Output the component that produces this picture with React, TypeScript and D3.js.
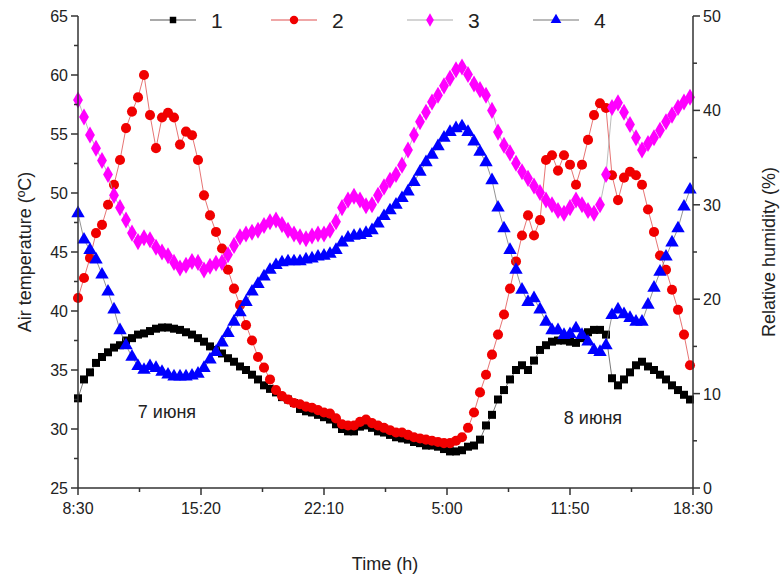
import * as d3 from 'd3'

// time labels on the x axis, 410 min apart
const timeLabels = ['8:30', '15:20', '22:10', '5:00', '11:50', '18:30']
const tickStep = 410
const sampleStep = 20 // minutes between points

// series 1, 2: air temperature (ºC), left axis
const series1 = [
  32.6, 34.2, 34.8, 35.6, 36.1, 36.5, 36.9, 37.1, 37.5, 37.7, 38.0, 38.1, 38.3, 38.5, 38.6, 38.6, 38.5, 38.4, 38.2, 38.0,
  37.7, 37.4, 37.0, 36.7, 36.4, 36.0, 35.7, 35.3, 35.0, 34.6, 34.2, 33.7, 33.4, 33.1, 32.7, 32.5, 32.2, 31.7, 31.5, 31.4,
  31.2, 31.0, 30.8, 30.4, 30.0, 29.8, 29.8, 30.2, 30.3, 30.1, 29.8, 29.7, 29.5, 29.3, 29.2, 29.1, 28.9, 28.8, 28.6, 28.6,
  28.5, 28.3, 28.1, 28.1, 28.2, 28.5, 28.6, 29.1, 30.3, 31.2, 32.5, 33.3, 34.2, 35.0, 35.4, 35.0, 35.8, 36.7, 37.1, 37.4,
  37.5, 37.5, 37.4, 37.3, 37.7, 38.2, 38.4, 38.4, 38.0, 34.3, 33.7, 34.2, 34.8, 35.4, 35.7, 35.3, 35.0, 34.6, 34.2, 33.7,
  33.3, 32.9, 32.5
]
const series2 = [
  41.1, 42.8, 44.5, 46.6, 47.3, 49.0, 50.7, 52.8, 55.5, 56.9, 58.1, 60.0, 56.6, 53.8, 56.4, 56.8, 56.4, 54.1, 55.2, 54.9,
  52.8, 49.8, 48.1, 46.7, 45.3, 43.5, 41.9, 40.5, 38.8, 37.5, 36.1, 35.2, 34.2, 33.3, 32.8, 32.5, 32.2, 32.1, 31.9, 31.8,
  31.6, 31.4, 31.3, 30.9, 30.4, 30.3, 30.3, 30.6, 30.8, 30.5, 30.3, 30.1, 29.9, 29.7, 29.7, 29.5, 29.3, 29.2, 29.1, 29.0,
  28.9, 28.8, 28.8, 29.0, 29.3, 30.1, 31.4, 33.1, 34.6, 36.3, 38.0, 39.7, 41.9, 44.2, 46.4, 48.1, 46.4, 47.7, 52.8, 53.2,
  51.9, 53.2, 52.4, 50.7, 52.4, 54.5, 56.6, 57.6, 57.2, 51.5, 49.4, 51.3, 51.8, 51.5, 50.7, 48.6, 46.7, 44.7, 43.5, 41.8,
  40.1, 38.0, 35.4
]
// series 3, 4: relative humidity (%), right axis
const series3 = [
  41.1, 39.3, 37.4, 36.0, 34.7, 33.2, 31.0, 29.7, 28.4, 27.0, 26.1, 26.5, 26.3, 25.5, 25.0, 24.6, 23.9, 23.3, 23.6, 24.0,
  23.9, 23.1, 23.5, 23.8, 23.9, 24.7, 25.7, 26.6, 26.9, 27.1, 27.3, 27.8, 28.2, 28.4, 27.9, 27.3, 26.9, 26.6, 26.4, 26.7,
  26.9, 26.9, 27.3, 28.2, 29.7, 30.5, 30.9, 30.5, 29.9, 30.0, 31.0, 31.9, 32.6, 33.2, 34.2, 35.8, 37.4, 38.8, 39.8, 40.9,
  41.6, 42.6, 43.4, 44.3, 44.6, 43.8, 42.8, 42.2, 41.6, 40.0, 37.7, 36.3, 35.5, 34.4, 33.5, 32.8, 32.0, 31.3, 30.5, 30.0,
  29.4, 29.1, 29.7, 30.5, 30.0, 29.4, 29.1, 30.0, 33.2, 40.3, 40.8, 39.8, 38.5, 37.1, 35.8, 36.5, 37.1, 37.9, 38.8, 39.5,
  40.3, 40.9, 41.4
]
const series4 = [
  29.1, 26.3, 25.2, 24.2, 22.6, 20.8, 18.9, 16.7, 15.1, 13.9, 12.9, 12.5, 12.9, 12.7, 12.3, 12.0, 11.8, 11.8, 11.8, 11.9,
  12.1, 12.7, 13.6, 14.4, 15.4, 16.4, 17.6, 18.6, 19.7, 20.8, 21.6, 22.4, 23.1, 23.6, 23.9, 24.0, 24.0, 24.0, 24.2, 24.3,
  24.5, 24.6, 24.8, 25.2, 26.0, 26.5, 26.7, 26.8, 27.0, 27.3, 28.0, 28.8, 29.4, 30.0, 30.7, 31.4, 32.4, 33.5, 34.5, 35.3,
  36.2, 37.1, 37.7, 38.1, 38.3, 37.7, 36.7, 35.6, 34.5, 32.6, 29.7, 27.5, 25.2, 23.1, 21.0, 19.7, 20.1, 18.9, 17.6, 16.7,
  16.7, 16.2, 16.3, 16.9, 16.2, 15.5, 14.6, 14.4, 15.1, 18.3, 18.9, 18.4, 18.0, 17.6, 17.6, 19.4, 21.2, 22.9, 24.5, 26.0,
  27.5, 29.8, 31.6
]

const seriesNames = ['1', '2', '3', '4']

const W = 784
const H = 578
const plot = { left: 78, right: 693, top: 16, bottom: 488 }
const font = "'Liberation Sans', Arial, sans-serif"

const x = d3.scaleLinear().domain([0, tickStep * 5]).range([plot.left, plot.right])
const yT = d3.scaleLinear().domain([25, 65]).range([plot.bottom, plot.top])
const yH = d3.scaleLinear().domain([0, 50]).range([plot.bottom, plot.top])

const styles = [
  { data: series1, y: yT, color: '#000000', line: '#555555', shape: d3.symbolSquare, size: 64, legendSize: 42 },
  { data: series2, y: yT, color: '#f00000', line: '#e05050', shape: d3.symbolCircle, size: 80, legendSize: 56 },
  { data: series3, y: yH, color: '#ff00ff', line: '#aaaaaa', shape: d3.symbolDiamond, size: 84, legendSize: 52 },
  { data: series4, y: yH, color: '#0000ff', line: '#777777', shape: d3.symbolTriangle, size: 78, legendSize: 50 }
]

function Series({ s }: { s: (typeof styles)[number] }) {
  const pts = s.data.map((v, i) => [x(i * sampleStep), s.y(v)] as [number, number])
  const line = d3.line()(pts) ?? ''
  const sym = d3.symbol().type(s.shape).size(s.size)() ?? ''
  return (
    <g>
      <path d={line} fill="none" stroke={s.line} strokeWidth={0.8} />
      {pts.map((p, i) => (
        <path key={i} d={sym} transform={`translate(${p[0]},${p[1]})`} fill={s.color} />
      ))}
    </g>
  )
}

export default function App() {
  const xMajor = d3.range(0, tickStep * 5 + 1, tickStep)
  const xMinor = d3.range(tickStep / 2, tickStep * 5, tickStep)
  const tMajor = d3.range(25, 66, 5)
  const tMinor = d3.range(27.5, 65, 5)
  const hMajor = d3.range(0, 51, 10)
  const hMinor = d3.range(5, 50, 10)
  const legendX = [173, 294, 430, 556]
  const legendY = 20
  const axisColor = '#333'

  return (
    <svg width={W} height={H} style={{ position: 'absolute', left: 0, top: 0, background: '#fff' }} fontFamily={font}>
      <rect width={W} height={H} fill="#fff" />

      {styles.map((s, i) => (
        <Series key={i} s={s} />
      ))}

      {/* axes */}
      <g stroke={axisColor} strokeWidth={1.5} fill="none">
        <line x1={plot.left} x2={plot.left} y1={plot.top} y2={plot.bottom} />
        <line x1={plot.right} x2={plot.right} y1={plot.top} y2={plot.bottom} />
        <line x1={plot.left} x2={plot.right} y1={plot.bottom} y2={plot.bottom} />
        {xMajor.map(t => (
          <line key={'xm' + t} x1={x(t)} x2={x(t)} y1={plot.bottom} y2={plot.bottom + 7} />
        ))}
        {xMinor.map(t => (
          <line key={'xn' + t} x1={x(t)} x2={x(t)} y1={plot.bottom} y2={plot.bottom + 4} />
        ))}
        {tMajor.map(t => (
          <line key={'tm' + t} x1={plot.left - 7} x2={plot.left} y1={yT(t)} y2={yT(t)} />
        ))}
        {tMinor.map(t => (
          <line key={'tn' + t} x1={plot.left - 4} x2={plot.left} y1={yT(t)} y2={yT(t)} />
        ))}
        {hMajor.map(t => (
          <line key={'hm' + t} x1={plot.right} x2={plot.right + 7} y1={yH(t)} y2={yH(t)} />
        ))}
        {hMinor.map(t => (
          <line key={'hn' + t} x1={plot.right} x2={plot.right + 4} y1={yH(t)} y2={yH(t)} />
        ))}
      </g>

      <g fontSize={16} fill="#222">
        {xMajor.map((t, i) => (
          <text key={'xl' + t} x={x(t)} y={plot.bottom + 26} textAnchor="middle">
            {timeLabels[i]}
          </text>
        ))}
        {tMajor.map(t => (
          <text key={'tl' + t} x={plot.left - 10} y={yT(t) + 6} textAnchor="end">
            {t}
          </text>
        ))}
        {hMajor.map(t => (
          <text key={'hl' + t} x={plot.right + 10} y={yH(t) + 6} textAnchor="start">
            {t}
          </text>
        ))}
      </g>

      {/* axis titles */}
      <text x={385} y={570} fontSize={18} textAnchor="middle" fill="#222">
        Time (h)
      </text>
      <text transform={`translate(31,${(plot.top + plot.bottom) / 2}) rotate(-90)`} fontSize={18} textAnchor="middle" fill="#222">
        Air temperature (ºC)
      </text>
      <text transform={`translate(775,${(plot.top + plot.bottom) / 2}) rotate(-90)`} fontSize={18} textAnchor="middle" fill="#222">
        Relative humidity (%)
      </text>

      {/* day labels */}
      <text x={167} y={418} fontSize={18} textAnchor="middle" fill="#222">
        7 июня
      </text>
      <text x={593} y={424} fontSize={18} textAnchor="middle" fill="#222">
        8 июня
      </text>

      {/* legend */}
      {styles.map((s, i) => (
        <g key={'lg' + i} transform={`translate(${legendX[i]},${legendY})`}>
          <line x1={-23} x2={23} y1={0} y2={0} stroke={s.line} strokeWidth={1.2} />
          <path d={d3.symbol().type(s.shape).size(s.legendSize)() ?? ''} fill={s.color} />
          <text x={38} y={8} fontSize={21} fill="#222">
            {seriesNames[i]}
          </text>
        </g>
      ))}
    </svg>
  )
}
